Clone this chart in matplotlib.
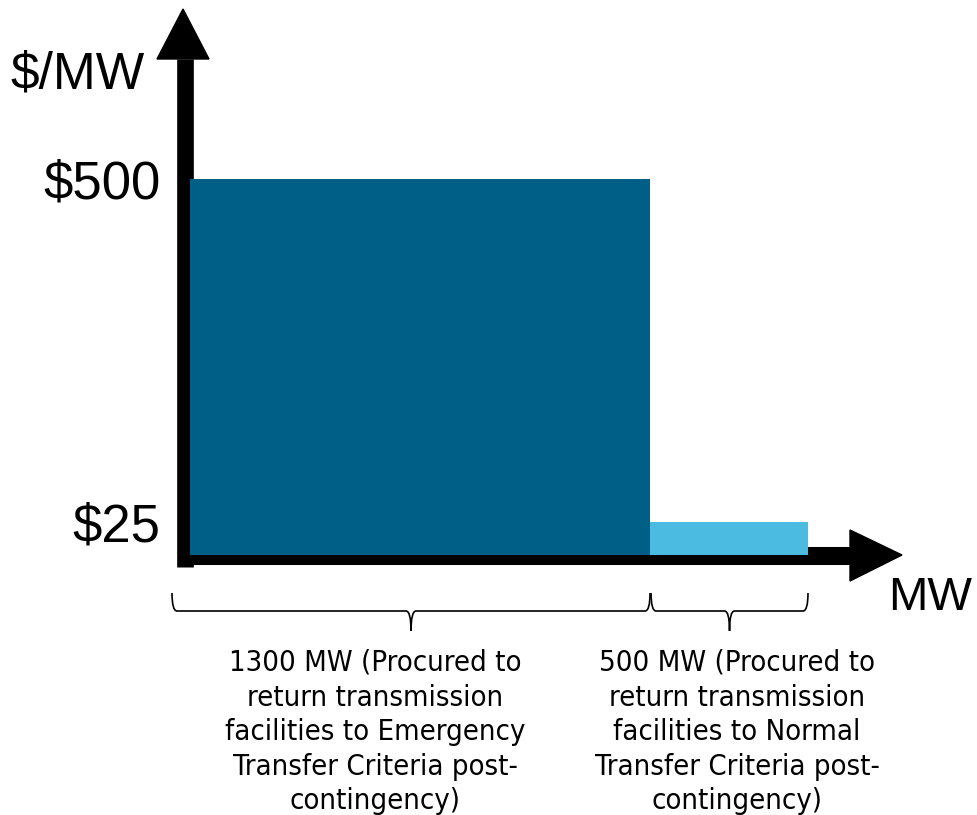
import numpy as np
import matplotlib
matplotlib.use('Agg')
import matplotlib.pyplot as plt
from matplotlib.path import Path
from matplotlib.patches import PathPatch, Polygon

# price tiers ($/MW) and MW procured at each tier
prices = [500, 25]
mw = [1300, 500]
colors = ['#005f87', '#4bbbe2']
price_labels = ['$500', '$25']
notes = ['1300 MW (Procured to\nreturn transmission\nfacilities to Emergency\nTransfer Criteria post-\ncontingency)',
         '500 MW (Procured to\nreturn transmission\nfacilities to Normal\nTransfer Criteria post-\ncontingency)']

W, H = 977, 815
fig = plt.figure(figsize=(W / 100, H / 100), dpi=100)

# background layer in pixel coords for arrows / braces / labels
bg = fig.add_axes([0, 0, 1, 1], zorder=0)
bg.set_xlim(0, W)
bg.set_ylim(H, 0)
bg.axis('off')

ax = fig.add_axes([190 / W, (H - 555) / H, (808 - 190) / W, (555 - 179) / H], zorder=1)
ax.patch.set_alpha(0)

# schematic (not to scale) axes
px, py = 0.907, 0.81
ax.set_xscale('function', functions=(lambda v: np.clip(v, 0, None) ** px,
                                     lambda v: np.clip(v, 0, None) ** (1 / px)))
ax.set_yscale('function', functions=(lambda v: np.clip(v, 0, None) ** py,
                                     lambda v: np.clip(v, 0, None) ** (1 / py)))

left = np.concatenate([[0], np.cumsum(mw)[:-1]])
ax.bar(left, prices, width=mw, align='edge', color=colors, linewidth=0)
ax.set_xlim(0, sum(mw))
ax.set_ylim(0, max(prices))
for s in ax.spines.values():
    s.set_visible(False)
ax.set_xticks([])
ax.set_yticks(prices, price_labels)
ax.tick_params(axis='y', length=0, pad=21, labelsize=38)
for t in ax.get_yticklabels():
    t.set_family('Liberation Sans')

# axis arrows
bg.plot([185, 185], [567, 59], color='black', lw=12, solid_capstyle='butt')
bg.add_patch(Polygon([(157, 59), (209, 59), (183, 9)], closed=True, color='black'))
bg.plot([178, 850], [556, 556], color='black', lw=13, solid_capstyle='butt')
bg.add_patch(Polygon([(850, 530), (850, 581), (902, 555)], closed=True, color='black'))

bg.text(10, 75, '$/MW', fontsize=37, family='Liberation Sans', va='center', ha='left')
bg.text(972, 598, 'MW', fontsize=34, family='Liberation Sans', va='center', ha='right')


def brace(x0, x1, y_top=593, y_mid=611, y_tip=631, r=5):
    xm = (x0 + x1) / 2
    verts = [(x0, y_top), (x0, y_mid), (x0 + r, y_mid),
             (xm - r, y_mid), (xm, y_mid), (xm, y_tip),
             (xm, y_mid), (xm + r, y_mid),
             (x1 - r, y_mid), (x1, y_mid), (x1, y_top)]
    codes = [Path.MOVETO, Path.CURVE3, Path.CURVE3,
             Path.LINETO, Path.CURVE3, Path.CURVE3,
             Path.CURVE3, Path.CURVE3,
             Path.LINETO, Path.CURVE3, Path.CURVE3]
    bg.add_patch(PathPatch(Path(verts, codes), fill=False, lw=1.2, color='black'))


edges = [ax.transData.transform((e, 0))[0] for e in np.concatenate([[0], np.cumsum(mw)])]
brace(edges[0] - 18, edges[1])
brace(edges[1] + 1, edges[2])

for xc, txt in zip([375, 737], notes):
    bg.text(xc, 649, txt, fontsize=21, family='DejaVu Sans', fontstretch='condensed',
            ha='center', va='top', linespacing=1.3)

fig.savefig('out.png', dpi=100)
